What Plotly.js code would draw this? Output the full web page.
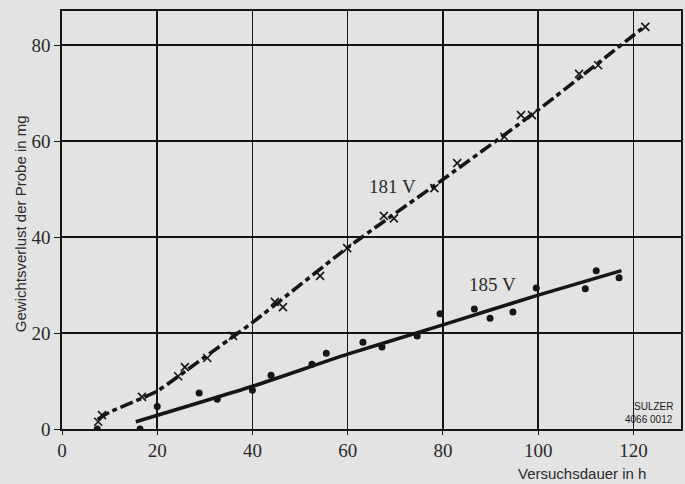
<!DOCTYPE html>
<html>
<head>
<meta charset="utf-8">
<script src="https://cdn.plot.ly/plotly-3.0.1.min.js"></script>
<style>
html,body{margin:0;padding:0;background:#e3e3e3;}
#chart{width:685px;height:484px;}
</style>
</head>
<body>
<div id="chart"></div>
<script>
// 181 V measured points (crosses)
var x181 = [7.6, 8.4, 16.8, 24.4, 25.8, 30.5, 35.9, 44.7, 46.4, 54.2, 59.9, 67.6, 69.7, 78.2, 83.0, 92.9, 96.4, 98.7, 108.6, 112.6, 122.5];
var y181 = [1.5, 2.9, 6.7, 11.0, 12.9, 14.8, 19.4, 26.5, 25.4, 31.9, 37.7, 44.4, 43.9, 50.2, 55.4, 60.9, 65.4, 65.4, 74.0, 75.8, 83.8];
// 181 V fitted curve (dashed)
var fit181x = [7.5, 10, 17, 20, 30, 40, 60, 80, 100, 122.5];
var fit181y = [2.0, 3.5, 6.5, 7.9, 15.0, 22.2, 37.8, 52.0, 66.5, 84.0];
// 185 V measured points (dots)
var x185 = [7.4, 16.4, 20.0, 28.8, 32.6, 40.0, 43.9, 52.5, 55.5, 63.2, 67.2, 74.6, 79.4, 86.6, 89.9, 94.7, 99.6, 109.9, 112.2, 117.0];
var y185 = [0.0, 0.0, 4.7, 7.5, 6.2, 8.1, 11.2, 13.5, 15.8, 18.1, 17.1, 19.4, 24.0, 25.0, 23.1, 24.4, 29.4, 29.2, 33.0, 31.5];
// 185 V fitted line (solid)
var fit185x = [15.5, 40, 60, 80, 100, 117.5];
var fit185y = [1.5, 8.9, 15.6, 21.7, 27.9, 33.0];
// axis ticks
var xTicks = [0, 20, 40, 60, 80, 100, 120];
var yTicks = [0, 20, 40, 60, 80];

var ink = '#161616';
var traces = [
  {x: fit181x, y: fit181y, mode: 'lines', line: {color: ink, width: 3.6, dash: '13px,4px,5px,4px', shape: 'spline', smoothing: 0.6}, hoverinfo: 'skip'},
  {x: x181, y: y181, mode: 'markers', marker: {symbol: 'x-thin', size: 8, line: {color: ink, width: 1.6}}},
  {x: fit185x, y: fit185y, mode: 'lines', line: {color: ink, width: 3.6, shape: 'spline', smoothing: 0.6}},
  {x: x185, y: y185, mode: 'markers', marker: {symbol: 'circle', size: 7, color: ink}}
];

var serif = 'Liberation Serif, DejaVu Serif, serif';
var sans = 'Liberation Sans, DejaVu Sans, sans-serif';

var layout = {
  width: 685, height: 484,
  margin: {l: 62, r: 4, t: 11, b: 55},
  paper_bgcolor: '#e3e3e3',
  plot_bgcolor: '#e3e3e3',
  showlegend: false,
  xaxis: {
    range: [0, 130], tickvals: xTicks, ticktext: xTicks.map(String),
    showgrid: true, gridcolor: ink, gridwidth: 1.5,
    showline: true, linecolor: ink, linewidth: 1.6, mirror: true,
    zeroline: false, ticks: 'outside', ticklen: 4, tickcolor: ink,
    tickfont: {family: serif, size: 19, color: '#2a2a2a'}
  },
  yaxis: {
    range: [0, 87.1], tickvals: yTicks, ticktext: yTicks.map(String),
    showgrid: true, gridcolor: ink, gridwidth: 1.5,
    showline: true, linecolor: ink, linewidth: 1.6, mirror: true,
    zeroline: false, ticks: 'outside', ticklen: 6, tickcolor: ink,
    tickfont: {family: serif, size: 19, color: '#2a2a2a'}
  },
  annotations: [
    {text: 'Versuchsdauer in h', xref: 'paper', yref: 'paper', x: 1, y: 0, xanchor: 'right', yanchor: 'top', xshift: -33, yshift: -34, showarrow: false, font: {family: sans, size: 15, color: '#2a2a2a'}},
    {text: 'Gewichtsverlust der Probe in mg', xref: 'paper', yref: 'paper', x: 0, y: 0.49, xanchor: 'center', yanchor: 'middle', xshift: -42, textangle: -90, showarrow: false, font: {family: sans, size: 15, color: '#2a2a2a'}},
    {text: '181 V', x: 69.5, y: 50.5, xref: 'x', yref: 'y', showarrow: false, font: {family: serif, size: 19, color: '#2a2a2a'}},
    {text: '185 V', x: 90.5, y: 30.2, xref: 'x', yref: 'y', showarrow: false, font: {family: serif, size: 19, color: '#2a2a2a'}},
    {text: 'SULZER', xref: 'paper', yref: 'y', x: 1, y: 4.7, xanchor: 'right', xshift: -6, showarrow: false, font: {family: sans, size: 10, color: '#1a1a1a'}},
    {text: '4066 0012', xref: 'paper', yref: 'y', x: 1, y: 1.9, xanchor: 'right', xshift: -6, showarrow: false, font: {family: sans, size: 10, color: '#1a1a1a'}}
  ]
};

Plotly.newPlot('chart', traces, layout, {staticPlot: true, displayModeBar: false});
</script>
</body>
</html>
